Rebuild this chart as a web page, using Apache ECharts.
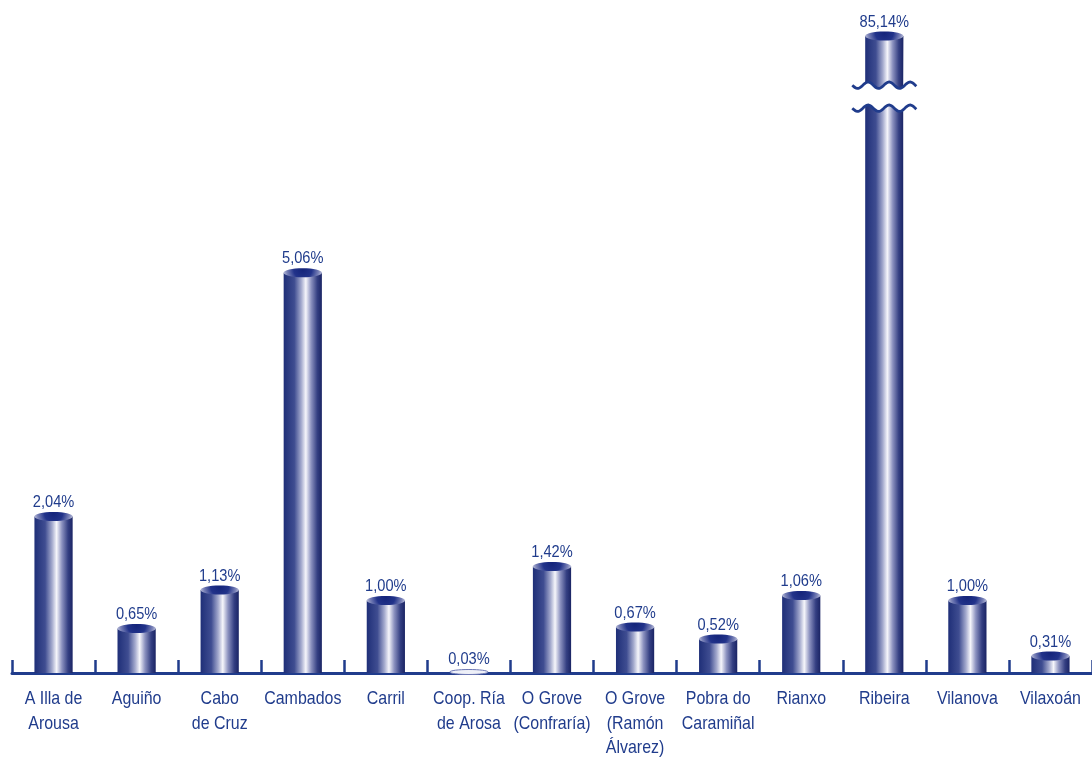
<!DOCTYPE html>
<html>
<head>
<meta charset="utf-8">
<style>
  html, body { margin: 0; padding: 0; background: #ffffff; }
  #chart { width: 1092px; height: 760px; }
</style>
<script src="https://cdn.jsdelivr.net/npm/echarts@6/dist/echarts.min.js"></script>
</head>
<body>
<div id="chart"></div>
<script>
const categories = [
  'A Illa de\nArousa', 'Aguiño', 'Cabo\nde Cruz', 'Cambados', 'Carril',
  'Coop. Ría\nde Arosa', 'O Grove\n(Confraría)', 'O Grove\n(Ramón\nÁlvarez)',
  'Pobra do\nCaramiñal', 'Rianxo', 'Ribeira', 'Vilanova', 'Vilaxoán'
];
const values = [2.04, 0.65, 1.13, 5.06, 1.00, 0.03, 1.42, 0.67, 0.52, 1.06, 85.14, 1.00, 0.31];

const Y_MIN = 0.1;
const Y_MAX = 85.14;
const BREAK_START = 7.1;
const BREAK_END = 84.53;

const NAVY = '#203c8c';
const FONT = '"Liberation Sans", Arial, sans-serif';

const bodyGradient = {
  type: 'linear', x: 0, y: 0, x2: 1, y2: 0,
  colorStops: [
    { offset: 0, color: '#1f2f78' },
    { offset: 0.28, color: '#3f4d91' },
    { offset: 0.46, color: '#a3a9cd' },
    { offset: 0.58, color: '#f6f6fb' },
    { offset: 0.72, color: '#8b91bf' },
    { offset: 0.88, color: '#343f82' },
    { offset: 1, color: '#1a2464' }
  ]
};

function topFill(cx, cy, rx) {
  return {
    type: 'radial', x: cx, y: cy, r: rx * 1.05, global: true,
    colorStops: [
      { offset: 0, color: '#14247a' },
      { offset: 0.45, color: '#22338a' },
      { offset: 0.8, color: '#7b83b8' },
      { offset: 1, color: '#c4c8e0' }
    ]
  };
}

function wavePoints(x0, x1, yc, startX, amp, period) {
  const pts = [];
  for (let x = x0; x <= x1 + 0.001; x += 1) {
    pts.push([x, yc + amp * Math.sin(2 * Math.PI * (x - startX) / period)]);
  }
  return pts;
}

function renderItem(params, api) {
  const i = api.value(0);
  const v = api.value(1);
  const base = api.coord([i, Y_MIN]);
  const cx = base[0];
  const yBase = base[1];
  const w = api.size([1, 0])[0] * 0.46;
  const rx = w / 2;
  const ry = 4.5;
  const yTop = v > Y_MIN ? api.coord([i, v])[1] : yBase;
  const children = [];
  const AMP = 3.2, PER = 21, HALF = 32;
  const waveStart = cx - HALF;

  if (v > BREAK_END) {
    const yLow = api.coord([i, BREAK_START])[1];
    const yHigh = api.coord([i, BREAK_END])[1];
    const lowTop = wavePoints(cx - rx, cx + rx, yLow, waveStart, AMP, PER);
    children.push({
      type: 'polygon',
      shape: { points: lowTop.concat([[cx + rx, yBase], [cx - rx, yBase]]) },
      style: { fill: bodyGradient }
    });
    const upBottom = wavePoints(cx - rx, cx + rx, yHigh, waveStart, AMP, PER).reverse();
    children.push({
      type: 'polygon',
      shape: { points: [[cx - rx, yTop], [cx + rx, yTop]].concat(upBottom) },
      style: { fill: bodyGradient }
    });
    children.push({
      type: 'polyline',
      shape: { points: wavePoints(cx - HALF, cx + HALF, yHigh, waveStart, AMP, PER) },
      style: { stroke: NAVY, lineWidth: 2.8, fill: null }
    });
    children.push({
      type: 'polyline',
      shape: { points: wavePoints(cx - HALF, cx + HALF, yLow, waveStart, AMP, PER) },
      style: { stroke: NAVY, lineWidth: 2.8, fill: null }
    });
  } else if (yBase - yTop > 0.5) {
    children.push({
      type: 'rect',
      shape: { x: cx - rx, y: yTop, width: w, height: yBase - yTop },
      style: { fill: bodyGradient }
    });
  }
  if (v > Y_MIN) {
    children.push({
      type: 'ellipse',
      shape: { cx: cx, cy: yTop, rx: rx, ry: ry },
      style: { fill: topFill(cx, yTop - ry * 0.7, rx) }
    });
  } else {
    children.push({
      type: 'ellipse',
      shape: { cx: cx, cy: yTop - 1, rx: rx, ry: 2.5 },
      style: {
        fill: '#eef0f8',
        stroke: '#6d77b4',
        lineWidth: 1
      }
    });
  }
  children.push({
    type: 'text',
    x: cx, y: yTop - ry - 1,
    scaleX: 0.86,
    style: {
      text: v.toFixed(2).replace('.', ',') + '%',
      x: 0, y: 0,
      align: 'center', verticalAlign: 'bottom',
      fill: NAVY,
      font: '17px ' + FONT
    }
  });
  children.push({
    type: 'text',
    x: cx, y: yBase + 14,
    scaleX: 0.84,
    style: {
      text: categories[i],
      x: 0, y: 0,
      align: 'center', verticalAlign: 'top',
      lineHeight: 24.5,
      fill: NAVY,
      font: '19px ' + FONT
    }
  });
  return { type: 'group', children: children };
}

const chart = echarts.init(document.getElementById('chart'), null, { renderer: 'canvas' });
chart.setOption({
  animation: false,
  backgroundColor: '#ffffff',
  grid: { left: 12, right: 0, top: 36, bottom: 87, containLabel: false },
  xAxis: {
    type: 'category',
    data: categories,
    boundaryGap: true,
    axisLine: { show: true, lineStyle: { color: NAVY, width: 3 } },
    axisTick: { show: true, inside: true, length: 13, interval: 0, lineStyle: { color: NAVY, width: 2.5 } },
    axisLabel: { show: false },
    splitLine: { show: false }
  },
  yAxis: {
    type: 'value',
    min: Y_MIN,
    max: Y_MAX,
    show: false,
    splitLine: { show: false },
    breaks: [{ start: BREAK_START, end: BREAK_END, gap: 0.285 }],
    breakArea: { show: false }
  },
  series: [{
    type: 'custom',
    renderItem: renderItem,
    clip: false,
    data: values.map((v, i) => [i, v]),
    z: 1
  }]
});
</script>
</body>
</html>
